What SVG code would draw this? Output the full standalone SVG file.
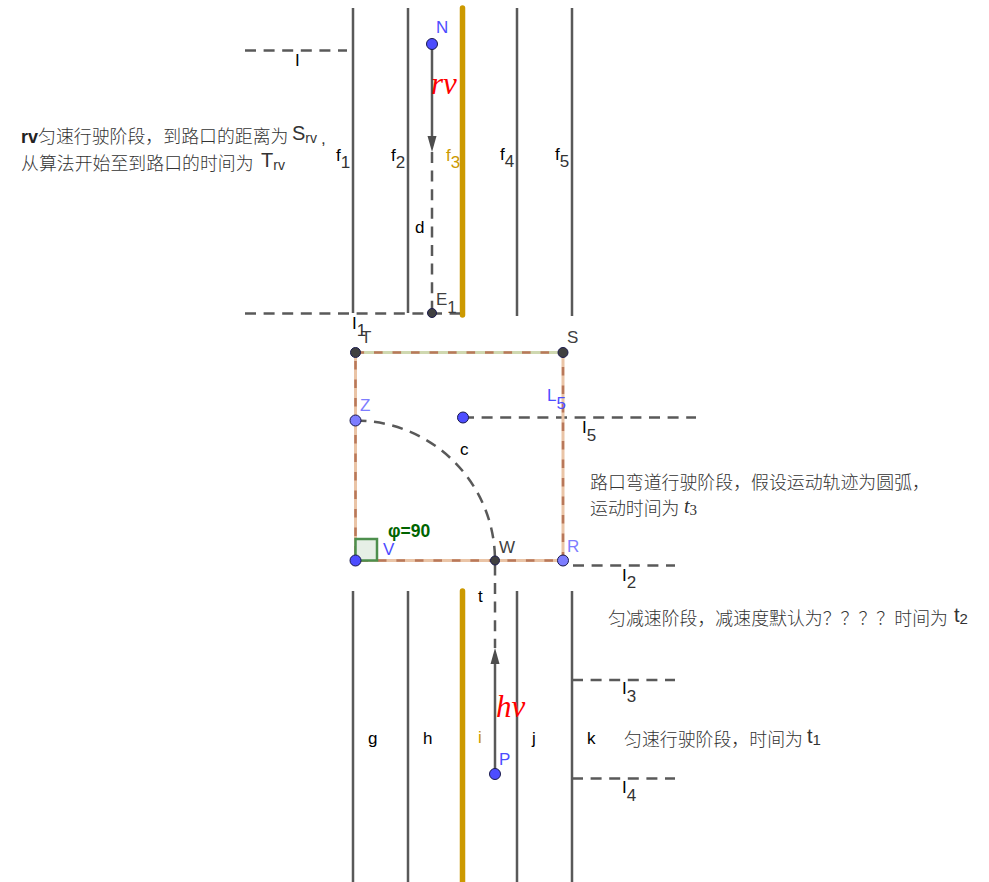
<svg xmlns="http://www.w3.org/2000/svg" width="989" height="882" viewBox="0 0 989 882">
<style>
text{font-family:"Liberation Sans",Arial,sans-serif;font-size:17px;fill:#000}
.sub{fill:#333}
.road{stroke:#595959;stroke-width:2.5;fill:none}
.gold{stroke:#cc9900;stroke-width:5.5;stroke-linecap:round;fill:none}
.dash{stroke:#595959;stroke-width:2.5;stroke-dasharray:11 7.6;fill:none}
.edge{stroke:#eac4a6;stroke-width:3;fill:none}
.edge2{stroke:#b9785a;stroke-width:2.5;stroke-dasharray:8.6 9.9;fill:none}
.vec{stroke:#595959;stroke-width:2.5;fill:none}
.pt{stroke:#1a1a4d;stroke-width:1}
.blue{fill:#4d4dff}
.lblue{fill:#7d7dff}
.dark{fill:#404040}
.zh{font-family:"Noto Sans CJK SC","Liberation Sans",sans-serif;font-size:17.900px;font-weight:300;fill:#333}
.ms{font-family:"Liberation Serif",serif;font-style:italic;font-size:31px;fill:#ff0000}
.big{font-size:20px;fill:#333}
.small{font-size:14px}
.num{font-size:15px}
</style>
<defs>
<marker id="arrow" markerUnits="userSpaceOnUse" markerWidth="16" markerHeight="16" refX="10" refY="8" orient="auto"><path d="M0 3.500L16 8L0 12.500Z" fill="#4d4d4d"/></marker>
</defs>
<g id="connectors">
<path class="road" d="M353 8V313M408 8V313M517 8V316M572 8V316"/>
<path class="gold" d="M462.500 8V315"/>
<path class="road" d="M353 591V882M408 591V882M517 591V882M572 591V882"/>
<path class="gold" d="M462.500 591V882"/>
<path class="dash" d="M245 50.500H347"/>
<path class="dash" d="M245 313.500H460"/>
<path class="dash" d="M432 152V313"/>
<path class="vec" d="M432 44V146" marker-end="url(#arrow)"/>
<path class="dash" d="M463 417.500H696"/>
<path class="dash" d="M573 565.500H675"/>
<path class="dash" d="M572 680H675"/>
<path class="dash" d="M572 778.500H675"/>
<path class="dash" d="M355.500 420.500A140 140 0 0 1 495 560.500V648"/>
<path class="vec" d="M495 774V654" marker-end="url(#arrow)"/>
<path d="M355.500 352.500H563" stroke="#cfd8b0" stroke-width="3" fill="none"/>
<path class="edge" d="M355.500 352.500V560.500H563V352.500"/>
<path class="edge2" d="M355.500 352.500H563V560.500H355.500Z"/>
</g>
<g id="angle">
<path d="M355.500 539H377V560.500H355.500Z" fill="#e6efe6" stroke="#4d8f4d" stroke-width="2.500"/>
<text x="388" y="537" font-weight="bold" style="fill:#006400;font-size:17.500px">φ=90</text>
</g>
<g id="N"><circle class="pt" cx="432" cy="44" r="5.500" fill="#4d4dff"/><text x="436" y="33" class="blue">N</text></g>
<g id="E1"><circle class="pt" cx="432" cy="313" r="4.500" fill="#404040"/><text x="436" y="305" class="dark">E<tspan dy="8">1</tspan></text></g>
<g id="T"><circle class="pt" cx="355.500" cy="352.500" r="5" fill="#404040"/><text x="361" y="343" class="dark">T</text></g>
<g id="S"><circle class="pt" cx="563" cy="352.500" r="5" fill="#404040"/><text x="567" y="343" class="dark">S</text></g>
<g id="Z"><circle class="pt" cx="355.500" cy="420.500" r="5.500" fill="#7d7dff"/><text x="360" y="411" class="lblue">Z</text></g>
<g id="Q"><circle class="pt" cx="463" cy="417.500" r="5.500" fill="#4d4dff"/></g>
<g id="V"><circle class="pt" cx="355.500" cy="560.500" r="5.500" fill="#4d4dff"/><text x="383" y="555" class="blue">V</text></g>
<g id="W"><circle class="pt" cx="495" cy="560.500" r="4.500" fill="#404040"/><text x="499" y="553" class="dark">W</text></g>
<g id="R"><circle class="pt" cx="563" cy="560.500" r="5.500" fill="#7d7dff"/><text x="567" y="552" class="lblue">R</text></g>
<g id="P"><circle class="pt" cx="495" cy="774" r="5.500" fill="#4d4dff"/><text x="499" y="765" class="blue">P</text></g>
<g id="labels">
<text x="295" y="66">I</text>
<text x="336" y="161">f<tspan dy="7" class="sub">1</tspan></text>
<text x="391" y="161">f<tspan dy="7" class="sub">2</tspan></text>
<text x="446" y="161" style="fill:#cc9900">f<tspan dy="7">3</tspan></text>
<text x="500" y="160">f<tspan dy="7" class="sub">4</tspan></text>
<text x="555" y="160">f<tspan dy="7" class="sub">5</tspan></text>
<text x="415" y="233">d</text>
<text x="352" y="329">I<tspan dy="7" class="sub">1</tspan></text>
<text x="547" y="401" class="blue">L<tspan dy="8">5</tspan></text>
<text x="582" y="433">I<tspan dy="8" class="sub">5</tspan></text>
<text x="460" y="455">c</text>
<text x="622" y="581">I<tspan dy="7" class="sub">2</tspan></text>
<text x="478" y="602">t</text>
<text x="622" y="694">I<tspan dy="8" class="sub">3</tspan></text>
<text x="622" y="793">I<tspan dy="8" class="sub">4</tspan></text>
<text x="368" y="744">g</text>
<text x="423" y="744">h</text>
<text x="478" y="743" style="fill:#cc9900">i</text>
<text x="532" y="744">j</text>
<text x="587" y="744">k</text>
<text x="431" y="94" class="ms">rv</text>
<text x="496" y="717" class="ms">hv</text>
</g>
<g id="notes">
<text x="21" y="143" class="zh"><tspan font-family="Liberation Sans" font-size="18" font-weight="bold" style="fill:#222">rv</tspan>匀速行驶阶段，到路口的距离为</text>
<text x="292" y="140" class="big">S<tspan dy="3" class="small">rv</tspan></text>
<text x="321" y="144" style="fill:#333">,</text>
<text x="21" y="170" class="zh">从算法开始至到路口的时间为</text>
<text x="261" y="167" class="big">T<tspan dy="3" class="small">rv</tspan></text>
<text x="590" y="489" class="zh">路口弯道行驶阶段，假设运动轨迹为圆弧，</text>
<text x="590" y="515" class="zh">运动时间为</text>
<text x="684" y="513" class="big" style="font-family:'Liberation Serif',serif;font-style:italic">t<tspan dy="2" class="num" font-style="normal">3</tspan></text>
<text x="608" y="625" class="zh">匀减速阶段，减速度默认为？？？？时间为</text>
<text x="954" y="622" class="big">t<tspan dy="2" class="num">2</tspan></text>
<text x="624" y="746" class="zh">匀速行驶阶段，时间为</text>
<text x="807" y="743" class="big">t<tspan dy="2" class="num">1</tspan></text>
</g>
</svg>
